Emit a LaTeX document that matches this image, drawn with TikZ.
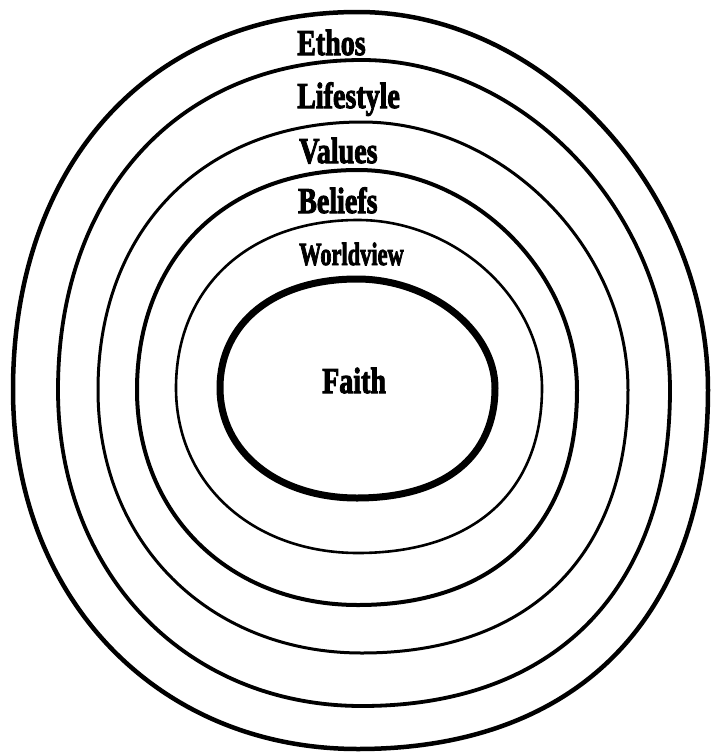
\documentclass[tikz,border=0pt]{standalone}
\usepackage{fontspec}
\setmainfont{Liberation Serif}
\newfontfamily\heavy[FakeBold=3]{Liberation Serif Bold}
\usetikzlibrary{positioning}
\newcommand{\tall}[1]{\scalebox{1}[1.3]{#1}}
% roundness of each quarter of a ring
\def\kUL{0.6}\def\kUR{0.53}\def\kLL{0.58}\def\kLR{0.63}
% line width, cx, cy, left, right, top, bottom
\newcommand{\drawring}[7]{%
  \draw[line width=#1] (#5,#3)
    .. controls (#5,{#3+\kLR*(#7-#3)}) and ({#2+\kLR*(#5-#2)},#7) .. (#2,#7)
    .. controls ({#2-\kLL*(#2-#4)},#7) and (#4,{#3+\kLL*(#7-#3)}) .. (#4,#3)
    .. controls (#4,{#3-\kUL*(#3-#6)}) and ({#2-\kUL*(#2-#4)},#6) .. (#2,#6)
    .. controls ({#2+\kUR*(#5-#2)},#6) and (#5,{#3-\kUR*(#3-#6)}) .. cycle;}

\begin{document}
\begin{tikzpicture}[x=1pt,y=-1pt,
  lbl/.style={font=\fontsize{28}{30}\heavy,anchor=base west,inner sep=0pt}]
\useasboundingbox (0,0) rectangle (711,753);
% rings, outside in
\drawring{4.5pt}{358}{390}{13}{708}{12}{749}
\drawring{3.8pt}{362}{390}{58}{670}{60}{706}
\drawring{3pt}{362}{390}{98}{628}{122}{653}
\drawring{4pt}{358}{390}{137}{577}{170}{605}
\drawring{2.6pt}{358}{388}{176}{542}{220}{553}
\drawring{7pt}{357}{388}{220}{495}{279}{498}
% labels
\node[lbl] (ethos) at (297,55) {\tall{Ethos}};
\node[lbl] (lifestyle) at (297,108) {\tall{Lifestyle}};
\node[lbl] (values) at (299,163) {\tall{Values}};
\node[lbl] (beliefs) at (298,213) {\tall{Beliefs}};
\node[lbl] (worldview) at (299,265) {\scalebox{0.8}[1.15]{Worldview}};
\node[lbl] (faith) at (322,393) {\tall{Faith}};
\end{tikzpicture}
\end{document}
